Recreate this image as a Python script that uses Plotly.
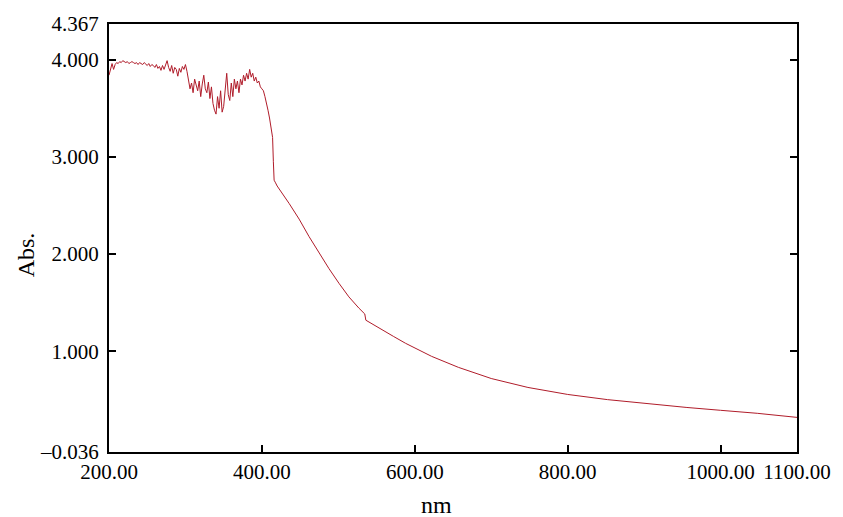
import plotly.graph_objects as go

# Noisy UV region (nm, Abs.)
wl_noisy = list(range(200, 416, 2))
abs_noisy = [
    3.84, 3.91, 3.96, 3.90, 3.95, 3.97, 3.96, 3.98, 3.97, 3.99,
    3.98, 3.97, 3.98, 3.96, 3.97, 3.98, 3.97, 3.96, 3.97, 3.95,
    3.97, 3.96, 3.95, 3.97, 3.95, 3.94, 3.96, 3.93, 3.95, 3.94,
    3.92, 3.95, 3.91, 3.93, 3.89, 3.94, 3.90, 3.96, 3.99, 3.92,
    3.88, 3.94, 3.86, 3.92, 3.90, 3.83, 3.91, 3.87, 3.93, 3.90,
    3.95, 3.88, 3.78, 3.70, 3.76, 3.66, 3.80, 3.72, 3.68, 3.78,
    3.62, 3.75, 3.84, 3.70, 3.66, 3.77, 3.60, 3.72, 3.55, 3.48,
    3.44, 3.62, 3.50, 3.68, 3.46, 3.52, 3.70, 3.86, 3.64, 3.58,
    3.76, 3.62, 3.80, 3.70, 3.78, 3.66, 3.80, 3.74, 3.84, 3.78,
    3.86, 3.80, 3.90, 3.82, 3.86, 3.78, 3.82, 3.76, 3.78, 3.72,
    3.70, 3.68, 3.62, 3.56, 3.48, 3.40, 3.30, 3.20,
]

# Smooth visible/NIR region
wl_smooth = [415, 416, 417.4, 420, 435.7, 448.7, 461.7, 474.7, 487.8, 500.8,
             513.8, 526.8, 534.6, 536, 552.9, 572.4, 588, 605, 622, 657,
             700, 748, 800, 852, 900, 956, 1000, 1048, 1100]
abs_smooth = [2.95, 2.76, 2.74, 2.70, 2.52, 2.36, 2.18, 2.01, 1.85, 1.70,
              1.56, 1.445, 1.384, 1.32, 1.238, 1.152, 1.082, 1.012, 0.948, 0.835,
              0.72, 0.628, 0.556, 0.503, 0.463, 0.422, 0.393, 0.362, 0.32]

wavelength = wl_noisy + wl_smooth
absorbance = abs_noisy + abs_smooth

x_ticks = [200, 400, 600, 800, 1000, 1100]
x_labels = ["200.00", "400.00", "600.00", "800.00", "1000.00", "1100.00"]
y_ticks = [-0.036, 1.0, 2.0, 3.0, 4.0, 4.367]
y_labels = ["\u20130.036", "1.000", "2.000", "3.000", "4.000", "4.367"]

font_family = "Liberation Serif, Times New Roman, serif"

W, H = 843, 517
l, r, t, b = 109, 42, 20, 65
pw, ph = W - l - r, H - t - b

fig = go.Figure()
fig.add_trace(go.Scatter(
    x=wavelength, y=absorbance, mode="lines",
    line=dict(color="#b01c2a", width=1),
    showlegend=False,
))

fig.update_layout(
    width=W, height=H,
    margin=dict(l=l, r=r, t=t, b=b),
    paper_bgcolor="white", plot_bgcolor="white",
    font=dict(family=font_family, size=21, color="black"),
    xaxis=dict(
        range=[200, 1100], tickvals=x_ticks, ticktext=x_labels,
        ticks="inside", ticklen=7, tickwidth=2, tickcolor="black",
        showline=True, linecolor="black", linewidth=2, mirror=True,
        showgrid=False, zeroline=False,
    ),
    yaxis=dict(
        range=[-0.036, 4.367], tickvals=y_ticks, ticktext=y_labels,
        ticks="inside", ticklen=7, tickwidth=2, tickcolor="black",
        showline=True, linecolor="black", linewidth=2, mirror="ticks",
        showgrid=False, zeroline=False, ticklabelstandoff=4,
    ),
    annotations=[
        dict(text="Abs.", x=(25 - l) / pw, y=1 - (253 - t) / ph,
             xref="paper", yref="paper", xanchor="center", yanchor="middle",
             showarrow=False, textangle=-90, font=dict(size=24)),
        dict(text="nm", x=(438 - l) / pw, y=1 - (505 - t) / ph,
             xref="paper", yref="paper", xanchor="center", yanchor="middle",
             showarrow=False, font=dict(size=24)),
    ],
)

fig.write_html("out.html")
